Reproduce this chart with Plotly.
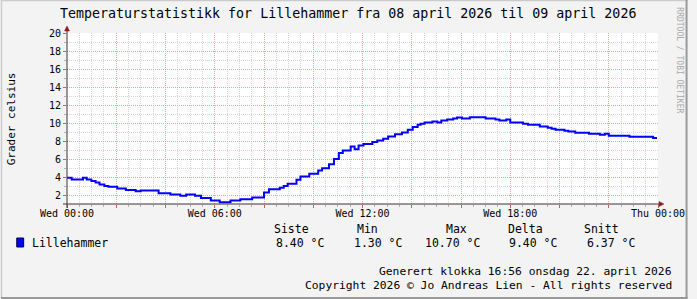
import plotly.graph_objects as go

# ---------------- data ----------------
hours = [0.00, 0.19, 0.65, 0.80, 0.99, 1.16, 1.32, 1.52, 1.68, 2.04, 2.39, 2.79, 2.99,
         3.72, 4.20, 4.60, 4.84, 5.20, 5.44, 5.84, 6.20, 6.64, 7.04, 7.52, 8.00, 8.20,
         8.64, 8.80, 8.96, 9.32, 9.48, 9.84, 10.20, 10.36, 10.64, 10.84, 11.04, 11.20,
         11.52, 11.68, 11.84, 12.04, 12.40, 12.60, 12.84, 13.04, 13.32, 13.60, 13.84,
         14.04, 14.24, 14.36, 14.52, 14.84, 15.04, 15.20, 15.44, 15.68, 15.84, 16.04,
         16.36, 17.00, 17.40, 17.56, 17.84, 18.00, 18.52, 18.72, 19.20, 19.52, 19.68,
         19.84, 20.20, 20.36, 20.64, 21.20, 21.64, 21.84, 22.00, 22.84, 23.80, 23.96]
temps = [4.00, 3.80, 4.00, 3.80, 3.63, 3.47, 3.25, 3.10, 3.00, 2.80, 2.66, 2.52, 2.60,
         2.30, 2.14, 2.00, 2.14, 2.00, 1.75, 1.48, 1.30, 1.48, 1.63, 1.81, 2.37, 2.72,
         2.90, 3.10, 3.33, 3.77, 4.15, 4.45, 4.80, 5.05, 5.50, 6.08, 6.75, 7.00,
         7.45, 7.16, 7.56, 7.72, 7.94, 8.12, 8.30, 8.56, 8.82, 9.00, 9.30,
         9.60, 9.85, 9.96, 10.10, 10.22, 10.10, 10.33, 10.44, 10.55, 10.66, 10.55,
         10.70, 10.55, 10.44, 10.33, 10.44, 10.10, 9.96, 9.85, 9.67, 9.52, 9.41,
         9.30, 9.19, 9.11, 8.97, 8.86, 8.75, 8.86, 8.64, 8.53, 8.40, 8.40]

tick_hours = [0, 2, 4, 6, 8, 10, 12, 14, 16, 18, 20, 22, 24]
tick_labels = ["Wed 00:00", "", "", "Wed 06:00", "", "", "Wed 12:00", "", "",
               "Wed 18:00", "", "", "Thu 00:00"]

series_name = "Lillehammer"
stat_headers = ["Siste", "Min", "Max", "Delta", "Snitt"]
stat_values = ["8.40 °C", "1.30 °C", "10.70 °C", "9.40 °C", "6.37 °C"]

title_text = "Temperaturstatistikk for Lillehammer fra 08 april 2026 til 09 april 2026"
ylabel_text = "Grader celsius"
footer_lines = ["Generert klokka 16:56 onsdag 22. april 2026",
                "Copyright 2026 © Jo Andreas Lien - All rights reserved"]
watermark = "RRDTOOL / TOBI OETIKER"

# ---------------- layout geometry ----------------
W, H = 697, 299
L, R, T, B = 67, 30, 33, 95
PW, PH = W - L - R, H - T - B
FONT = "DejaVu Sans Mono"


def px(x):
    return (x - L) / PW


def py(y):
    return (H - B - y) / PH


fig = go.Figure()
fig.add_trace(go.Scatter(x=hours, y=temps, mode="lines",
                         line=dict(color="#0000FF", width=2, shape="hv"),
                         hoverinfo="skip", showlegend=False))

MGRID = "#E8A4A4"
GRID = "#D6D6D6"
AXIS = "#3E3030"
ARROW = "#8E1A1A"

fig.update_layout(
    width=W, height=H,
    margin=dict(l=L, r=R, t=T, b=B, pad=0),
    paper_bgcolor="#F3F3F3",
    plot_bgcolor="#FFFFFF",
    font=dict(family=FONT, size=10, color="#000000"),
    showlegend=False,
    hovermode=False,
    xaxis=dict(range=[0, 24], tickmode="array", tickvals=tick_hours, ticktext=tick_labels,
               showgrid=True, gridcolor=MGRID, griddash="1px,1px", gridwidth=1,
               ticks="outside", ticklen=3, tickcolor="#C86060", tickwidth=1,
               ticklabelstandoff=-3,
               zeroline=False, showline=False, fixedrange=True,
               tickfont=dict(family=FONT, size=10),
               minor=dict(tickmode="linear", tick0=0, dtick=0.5, showgrid=True,
                          gridcolor=GRID, griddash="1px,1px", gridwidth=1,
                          ticks="outside", ticklen=2, tickcolor="#B0B0B0")),
    yaxis=dict(range=[1.1, 20], tickmode="linear", tick0=0, dtick=2,
               showgrid=True, gridcolor=MGRID, griddash="1px,1px", gridwidth=1,
               ticks="outside", ticklen=3, tickcolor="#C86060",
               zeroline=False, showline=False, fixedrange=True,
               tickfont=dict(family=FONT, size=10),
               minor=dict(tickmode="linear", tick0=0, dtick=1, showgrid=True,
                          gridcolor=GRID, griddash="1px,1px", gridwidth=1,
                          ticks="outside", ticklen=2, tickcolor="#B0B0B0")),
)

shapes = []
# axes
shapes.append(dict(type="line", xref="paper", yref="paper", x0=px(67), x1=px(67),
                   y0=py(208), y1=py(29), line=dict(color=AXIS, width=1)))
shapes.append(dict(type="line", xref="paper", yref="paper", x0=px(63), x1=px(670),
                   y0=py(204), y1=py(204), line=dict(color=AXIS, width=1)))
# arrows
shapes.append(dict(type="path", xref="paper", yref="paper",
                   path=f"M {px(64.5)} {py(31)} L {px(69.5)} {py(31)} L {px(67)} {py(26)} Z",
                   fillcolor=ARROW, line=dict(color=ARROW, width=0.5)))
shapes.append(dict(type="path", xref="paper", yref="paper",
                   path=f"M {px(668)} {py(201.5)} L {px(668)} {py(206.5)} L {px(673)} {py(204)} Z",
                   fillcolor=ARROW, line=dict(color=ARROW, width=0.5)))
# legend swatch
shapes.append(dict(type="rect", xref="paper", yref="paper", x0=px(16), x1=px(23),
                   y0=py(247), y1=py(238), fillcolor="#0000FF",
                   line=dict(color="#000040", width=1)))
# frame
shapes.append(dict(type="line", xref="paper", yref="paper", x0=px(0), x1=px(697),
                   y0=py(0.5), y1=py(0.5), line=dict(color="#CBCBCB", width=1.5)))
shapes.append(dict(type="line", xref="paper", yref="paper", x0=px(0.5), x1=px(0.5),
                   y0=py(0), y1=py(299), line=dict(color="#CBCBCB", width=1.5)))
shapes.append(dict(type="line", xref="paper", yref="paper", x0=px(0), x1=px(697),
                   y0=py(298), y1=py(298), line=dict(color="#999999", width=2)))
shapes.append(dict(type="line", xref="paper", yref="paper", x0=px(696), x1=px(696),
                   y0=py(0), y1=py(299), line=dict(color="#999999", width=2)))
fig.update_layout(shapes=shapes)

ann = []


def text(s, x, y, size=11.3, xanchor="left", color="#000000", angle=0):
    ann.append(dict(text=s, x=px(x), y=py(y), xref="paper", yref="paper",
                    xanchor=xanchor, yanchor="middle", showarrow=False,
                    textangle=angle, borderpad=0,
                    font=dict(family=FONT, size=size, color=color)))


text(title_text, 352.5, 14, size=13.3, xanchor="center")
text(ylabel_text, 11, 118.5, size=11, xanchor="center", angle=-90)
text(watermark, 689, 60, size=8, xanchor="center", color="#A8A8A8", angle=90)
text(series_name, 30, 243, size=11.5)
header_x = [276, 360, 451, 514, 591]
value_x = [278, 357, 429, 515, 594]
for h, xx in zip(stat_headers, header_x):
    text(h, xx, 229, size=11.5)
for v, xx in zip(stat_values, value_x):
    text(v, xx, 243, size=11.5)
text(footer_lines[0], 682.5, 271, xanchor="right")
text(footer_lines[1], 682.5, 285, xanchor="right")
fig.update_layout(annotations=ann)

fig.write_html("out.html", config={"displayModeBar": False})
